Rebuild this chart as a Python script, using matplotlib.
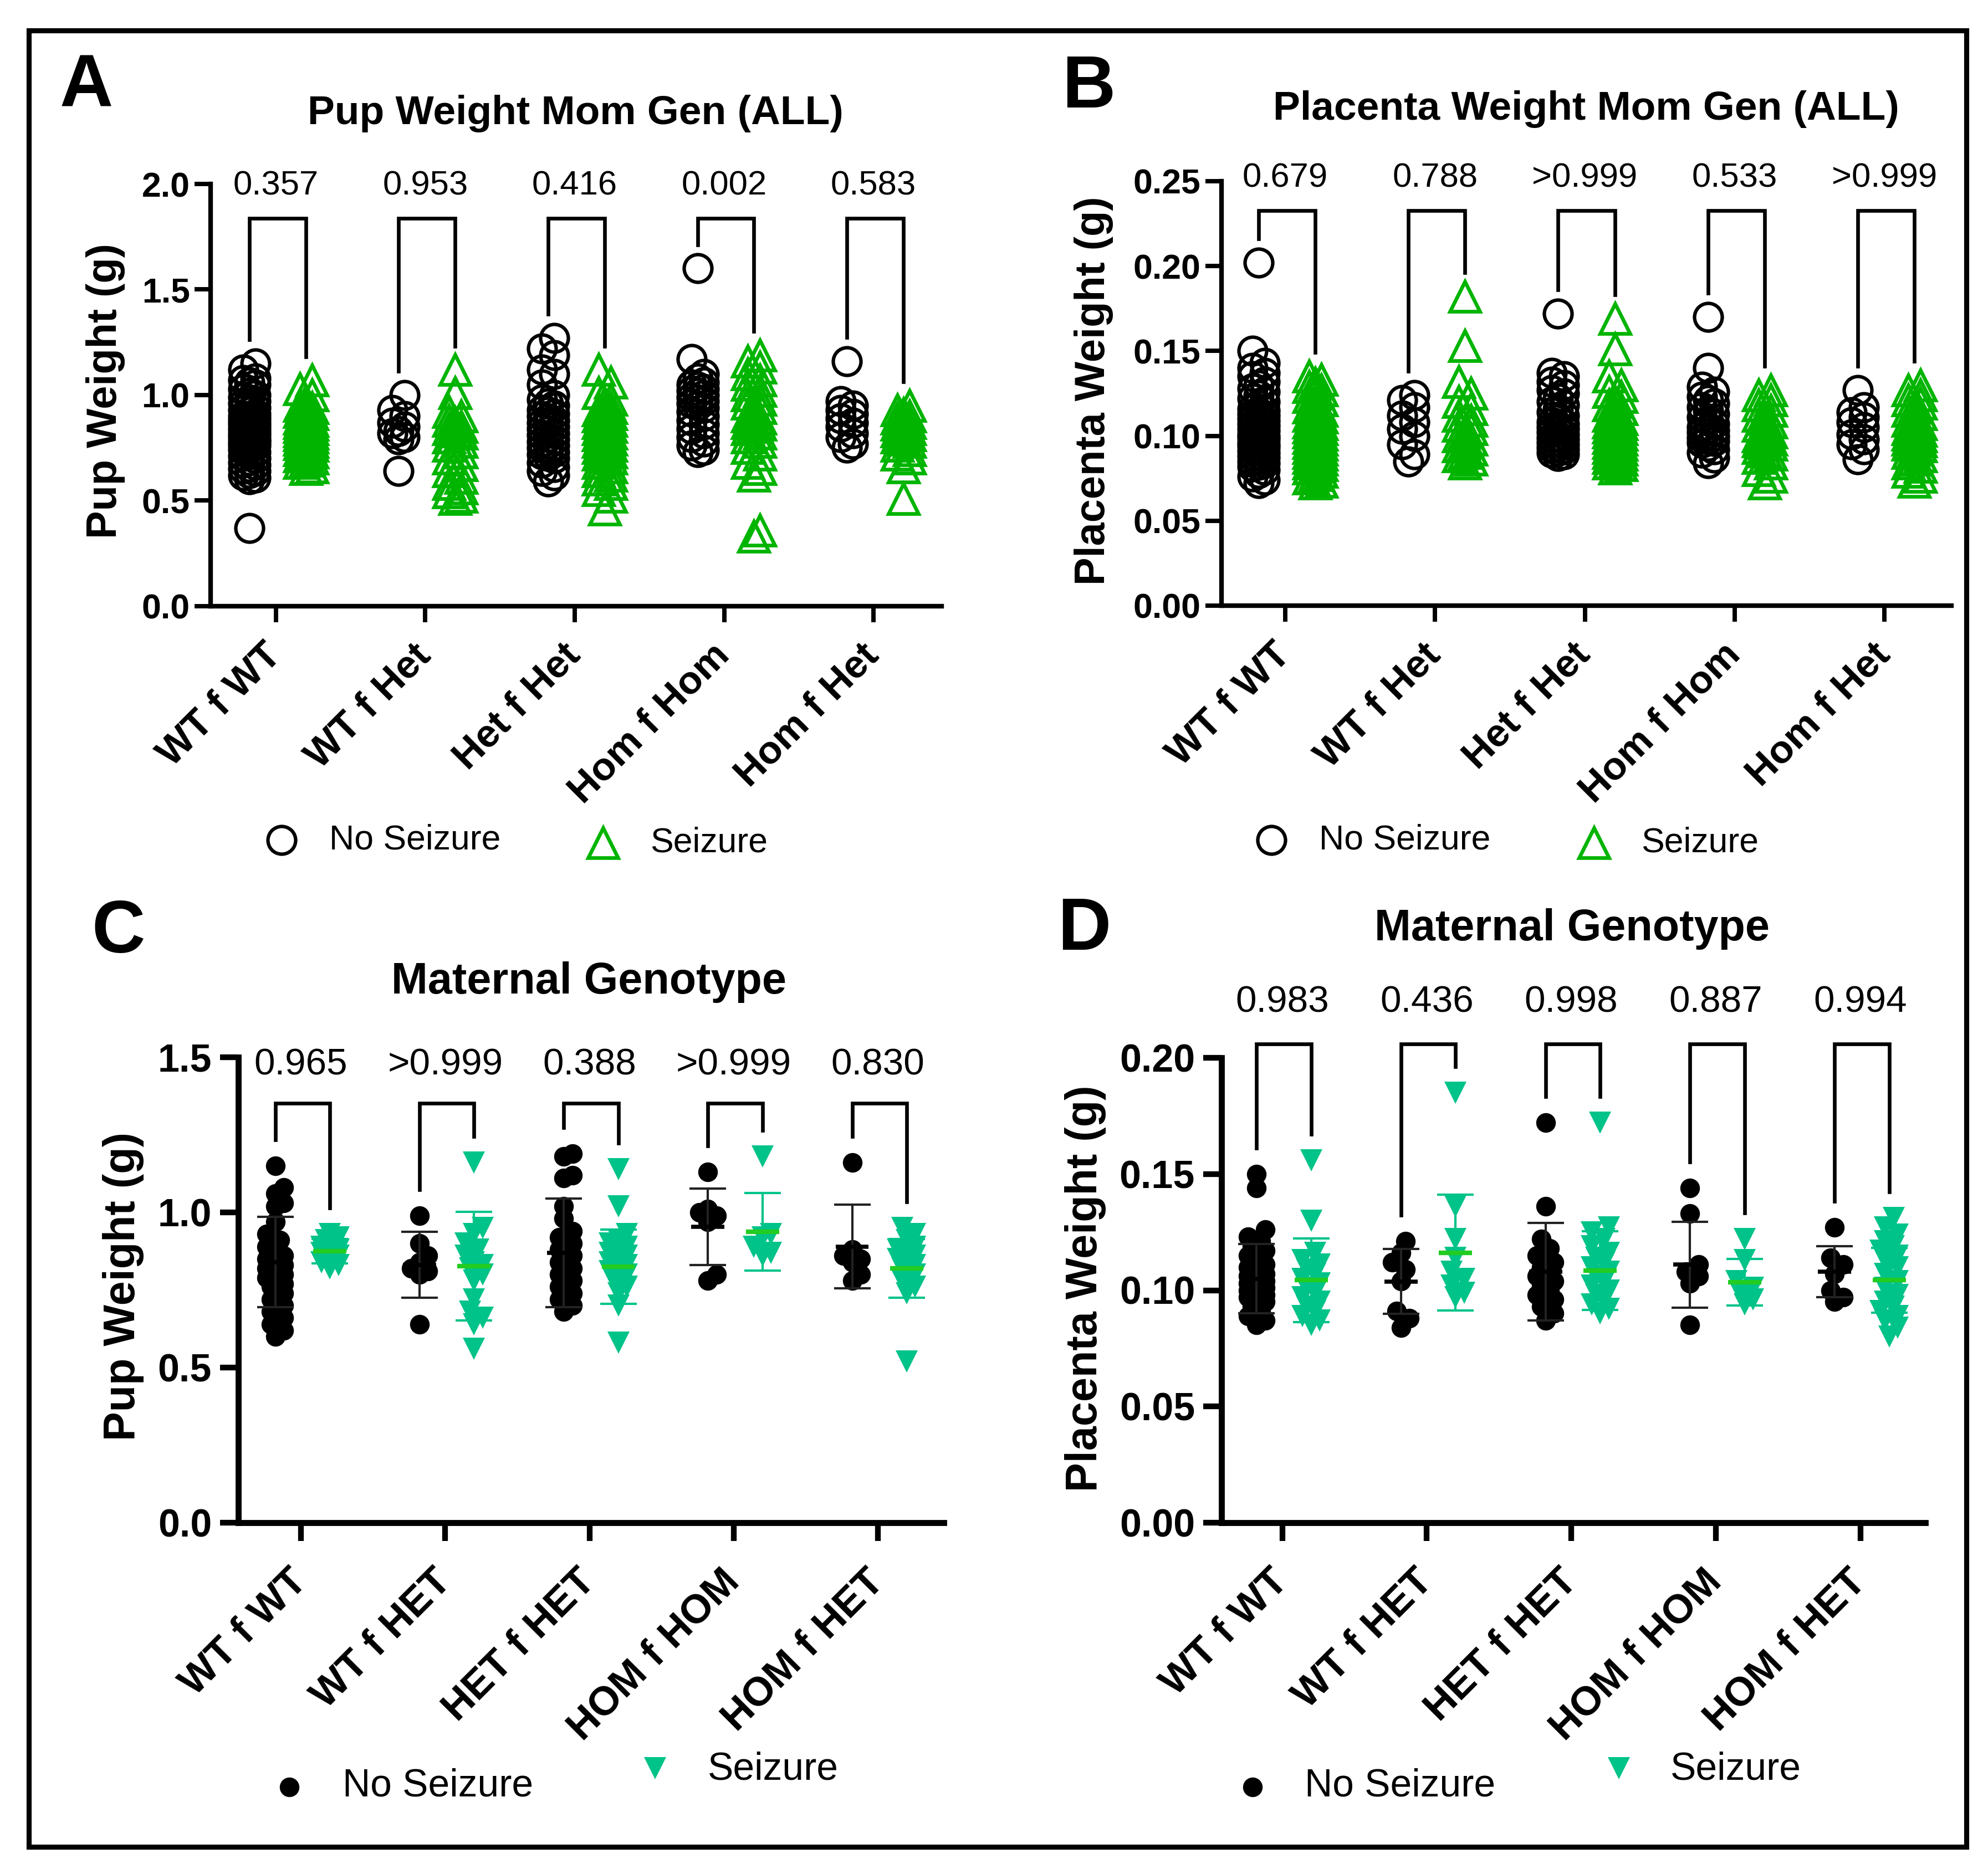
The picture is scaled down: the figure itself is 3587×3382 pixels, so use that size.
import numpy as np
import matplotlib
matplotlib.use('Agg')
import matplotlib.pyplot as plt
from matplotlib.patches import Rectangle

plt.rcParams['font.family'] = ['Liberation Sans', 'DejaVu Sans']

W, H, DPI = 3587, 3382, 300

# ---------------- data ----------------
groups_AB = ['WT f WT', 'WT f Het', 'Het f Het', 'Hom f Hom', 'Hom f Het']
groups_CD = ['WT f WT', 'WT f HET', 'HET f HET', 'HOM f HOM', 'HOM f HET']

p_A = ['0.357', '0.953', '0.416', '0.002', '0.583']
p_B = ['0.679', '0.788', '>0.999', '0.533', '>0.999']
p_C = ['0.965', '>0.999', '0.388', '>0.999', '0.830']
p_D = ['0.983', '0.436', '0.998', '0.887', '0.994']

# Panel A: pup weight (g), all pups
A_no_seizure = [
    [1.15, 1.12, 1.08, 1.07, 1.06, 1.05, 1.03, 1.01, 1.00, 0.99, 0.98, 0.97, 0.96, 0.95, 0.94,
     0.93, 0.92, 0.91, 0.90, 0.90, 0.89, 0.88, 0.88, 0.87, 0.86, 0.86, 0.85, 0.85, 0.84, 0.84,
     0.83, 0.83, 0.82, 0.82, 0.81, 0.81, 0.80, 0.80, 0.79, 0.79, 0.78, 0.78, 0.77, 0.76, 0.76,
     0.75, 0.74, 0.73, 0.72, 0.71, 0.70, 0.69, 0.68, 0.67, 0.66, 0.65, 0.64, 0.63, 0.62, 0.61,
     0.60, 0.37],
    [1.00, 0.93, 0.90, 0.87, 0.85, 0.83, 0.82, 0.80, 0.79, 0.64],
    [1.27, 1.22, 1.19, 1.12, 1.10, 1.05, 1.00, 0.98, 0.96, 0.95, 0.93, 0.92, 0.91, 0.90, 0.89,
     0.88, 0.87, 0.86, 0.85, 0.84, 0.83, 0.82, 0.81, 0.80, 0.79, 0.78, 0.77, 0.76, 0.75, 0.74,
     0.73, 0.72, 0.71, 0.70, 0.68, 0.66, 0.64, 0.62, 0.59],
    [1.60, 1.17, 1.10, 1.08, 1.06, 1.05, 1.04, 1.03, 1.02, 1.01, 1.00, 0.99, 0.98, 0.97, 0.96,
     0.95, 0.94, 0.92, 0.90, 0.88, 0.86, 0.84, 0.82, 0.80, 0.78, 0.76, 0.74, 0.73],
    [1.16, 0.97, 0.95, 0.93, 0.91, 0.89, 0.87, 0.85, 0.82, 0.80, 0.77, 0.75],
]
A_seizure = [
    [1.07, 1.03, 1.00, 0.97, 0.95, 0.94, 0.93, 0.92, 0.91, 0.90, 0.89, 0.88, 0.88, 0.87, 0.86,
     0.86, 0.85, 0.85, 0.84, 0.84, 0.83, 0.83, 0.82, 0.82, 0.81, 0.81, 0.80, 0.80, 0.79, 0.79,
     0.78, 0.78, 0.77, 0.76, 0.75, 0.74, 0.73, 0.72, 0.71, 0.70, 0.69, 0.68, 0.66, 0.65],
    [1.12, 1.01, 0.92, 0.90, 0.88, 0.87, 0.85, 0.84, 0.83, 0.82, 0.80, 0.78, 0.76, 0.73, 0.70,
     0.67, 0.64, 0.61, 0.58, 0.56, 0.54, 0.52, 0.51],
    [1.12, 1.06, 1.01, 0.98, 0.96, 0.94, 0.93, 0.92, 0.91, 0.90, 0.89, 0.88, 0.87, 0.86, 0.85,
     0.84, 0.83, 0.82, 0.81, 0.80, 0.79, 0.78, 0.77, 0.76, 0.75, 0.74, 0.73, 0.72, 0.71, 0.70,
     0.68, 0.66, 0.64, 0.62, 0.60, 0.58, 0.55, 0.52, 0.46],
    [1.19, 1.16, 1.13, 1.10, 1.07, 1.05, 1.02, 1.00, 0.98, 0.96, 0.94, 0.92, 0.90, 0.89, 0.88,
     0.87, 0.86, 0.85, 0.84, 0.82, 0.80, 0.78, 0.75, 0.72, 0.68, 0.65, 0.62, 0.36, 0.33],
    [0.95, 0.93, 0.91, 0.90, 0.89, 0.88, 0.87, 0.86, 0.85, 0.84, 0.83, 0.82, 0.81, 0.80, 0.79,
     0.78, 0.76, 0.74, 0.72, 0.70, 0.66, 0.51],
]

# Panel B: placenta weight (g), all pups
B_no_seizure = [
    [0.202, 0.150, 0.143, 0.140, 0.137, 0.135, 0.132, 0.130, 0.128, 0.126, 0.124, 0.122, 0.120,
     0.118, 0.116, 0.115, 0.114, 0.113, 0.112, 0.111, 0.110, 0.109, 0.108, 0.107, 0.106, 0.105,
     0.104, 0.103, 0.102, 0.101, 0.100, 0.100, 0.099, 0.098, 0.097, 0.096, 0.095, 0.095, 0.094,
     0.093, 0.092, 0.091, 0.090, 0.089, 0.088, 0.087, 0.086, 0.085, 0.084, 0.083, 0.082, 0.080,
     0.078, 0.076, 0.074, 0.072],
    [0.124, 0.121, 0.117, 0.112, 0.108, 0.104, 0.100, 0.095, 0.089, 0.085],
    [0.172, 0.137, 0.135, 0.132, 0.130, 0.127, 0.125, 0.122, 0.120, 0.118, 0.116, 0.114, 0.112,
     0.110, 0.108, 0.107, 0.106, 0.105, 0.104, 0.103, 0.102, 0.101, 0.100, 0.099, 0.098, 0.097,
     0.096, 0.095, 0.094, 0.093, 0.092, 0.091, 0.090, 0.089, 0.088],
    [0.170, 0.140, 0.129, 0.126, 0.123, 0.121, 0.119, 0.117, 0.115, 0.113, 0.111, 0.109, 0.107,
     0.105, 0.104, 0.103, 0.102, 0.101, 0.100, 0.099, 0.098, 0.097, 0.096, 0.094, 0.092, 0.090,
     0.087, 0.084],
    [0.127, 0.117, 0.114, 0.111, 0.108, 0.105, 0.101, 0.098, 0.095, 0.092, 0.086],
]
B_seizure = [
    [0.135, 0.133, 0.131, 0.129, 0.127, 0.125, 0.123, 0.121, 0.119, 0.117, 0.115, 0.113, 0.112,
     0.111, 0.110, 0.108, 0.107, 0.106, 0.105, 0.104, 0.103, 0.102, 0.101, 0.100, 0.099, 0.098,
     0.097, 0.096, 0.095, 0.094, 0.093, 0.092, 0.091, 0.090, 0.089, 0.088, 0.087, 0.086, 0.085,
     0.084, 0.083, 0.082, 0.081, 0.079, 0.077, 0.075, 0.073, 0.072],
    [0.182, 0.153, 0.132, 0.125, 0.120, 0.116, 0.112, 0.109, 0.106, 0.104, 0.102, 0.100, 0.098,
     0.096, 0.094, 0.092, 0.090, 0.088, 0.086, 0.084],
    [0.169, 0.151, 0.135, 0.130, 0.126, 0.123, 0.120, 0.118, 0.116, 0.114, 0.112, 0.110, 0.109,
     0.108, 0.107, 0.106, 0.105, 0.104, 0.103, 0.102, 0.101, 0.100, 0.099, 0.098, 0.097, 0.096,
     0.095, 0.094, 0.093, 0.092, 0.091, 0.090, 0.089, 0.088, 0.087, 0.086, 0.085, 0.084, 0.083,
     0.081],
    [0.127, 0.124, 0.121, 0.118, 0.115, 0.112, 0.110, 0.108, 0.106, 0.104, 0.102, 0.100, 0.099,
     0.098, 0.097, 0.096, 0.095, 0.093, 0.091, 0.089, 0.087, 0.084, 0.080, 0.076, 0.072],
    [0.130, 0.127, 0.124, 0.121, 0.119, 0.117, 0.115, 0.113, 0.111, 0.109, 0.107, 0.105, 0.104,
     0.103, 0.102, 0.101, 0.100, 0.099, 0.098, 0.097, 0.096, 0.095, 0.094, 0.092, 0.090, 0.088,
     0.086, 0.084, 0.082, 0.079, 0.076, 0.073],
]

# Panel C: pup weight (g) by maternal genotype
C_no_seizure = [
    [1.15, 1.08, 1.06, 1.03, 1.02, 0.97, 0.93, 0.91, 0.89, 0.87, 0.86, 0.85, 0.84, 0.83, 0.82,
     0.81, 0.80, 0.79, 0.78, 0.77, 0.76, 0.74, 0.72, 0.70, 0.68, 0.66, 0.64, 0.62, 0.60],
    [0.99, 0.90, 0.86, 0.84, 0.82, 0.81, 0.80, 0.64],
    [1.19, 1.18, 1.12, 1.11, 1.02, 0.98, 0.94, 0.92, 0.90, 0.88, 0.86, 0.84, 0.82, 0.80, 0.78,
     0.76, 0.74, 0.72, 0.70, 0.68],
    [1.13, 1.01, 1.00, 0.99, 0.97, 0.80, 0.78],
    [1.16, 0.88, 0.86, 0.85, 0.84, 0.80, 0.78],
]
C_seizure = [
    [0.93, 0.92, 0.91, 0.90, 0.89, 0.88, 0.88, 0.87, 0.86, 0.85, 0.84, 0.83, 0.82],
    [1.16, 0.95, 0.93, 0.90, 0.88, 0.86, 0.84, 0.83, 0.82, 0.80, 0.78, 0.72, 0.68, 0.66, 0.64,
     0.56],
    [1.14, 1.02, 0.93, 0.91, 0.90, 0.89, 0.88, 0.87, 0.86, 0.85, 0.84, 0.83, 0.82, 0.81, 0.80,
     0.78, 0.76, 0.74, 0.70, 0.58],
    [1.18, 0.93, 0.92, 0.89, 0.87, 0.86],
    [0.95, 0.93, 0.91, 0.89, 0.88, 0.87, 0.86, 0.85, 0.84, 0.83, 0.82, 0.80, 0.78, 0.76, 0.74,
     0.52],
]
C_no_mean = [0.84, 0.831, 0.87, 0.953, 0.89]
C_no_sd = [0.145, 0.106, 0.175, 0.123, 0.135]
C_sz_mean = [0.875, 0.826, 0.825, 0.937, 0.82]
C_sz_sd = [0.04, 0.175, 0.12, 0.125, 0.095]

# Panel D: placenta weight (g) by maternal genotype
D_no_seizure = [
    [0.150, 0.144, 0.126, 0.123, 0.121, 0.119, 0.117, 0.115, 0.113, 0.111, 0.110, 0.108, 0.107,
     0.106, 0.105, 0.104, 0.103, 0.102, 0.101, 0.100, 0.099, 0.098, 0.097, 0.096, 0.095, 0.093,
     0.091, 0.089, 0.087, 0.085],
    [0.121, 0.116, 0.112, 0.109, 0.104, 0.091, 0.088, 0.084],
    [0.172, 0.136, 0.122, 0.118, 0.115, 0.112, 0.110, 0.108, 0.106, 0.104, 0.102, 0.100, 0.098,
     0.096, 0.093, 0.090, 0.087],
    [0.144, 0.133, 0.111, 0.108, 0.106, 0.103, 0.085],
    [0.127, 0.114, 0.111, 0.107, 0.100, 0.097, 0.095],
]
D_seizure = [
    [0.156, 0.130, 0.116, 0.113, 0.111, 0.109, 0.107, 0.105, 0.103, 0.101, 0.099, 0.097, 0.095,
     0.093, 0.091, 0.089, 0.087, 0.085],
    [0.185, 0.136, 0.122, 0.114, 0.108, 0.105, 0.102, 0.099, 0.097],
    [0.172, 0.127, 0.125, 0.122, 0.119, 0.116, 0.114, 0.112, 0.110, 0.108, 0.106, 0.104, 0.102,
     0.100, 0.098, 0.096, 0.094, 0.092, 0.090],
    [0.122, 0.113, 0.104, 0.101, 0.099, 0.096, 0.094],
    [0.131, 0.127, 0.124, 0.121, 0.119, 0.117, 0.115, 0.113, 0.110, 0.107, 0.104, 0.101, 0.098,
     0.095, 0.093, 0.091, 0.089, 0.087, 0.084, 0.080],
]
D_no_mean = [0.105, 0.1038, 0.108, 0.111, 0.108]
D_no_sd = [0.015, 0.014, 0.021, 0.0185, 0.011]
D_sz_mean = [0.1043, 0.1162, 0.1085, 0.1035, 0.1043]
D_sz_sd = [0.018, 0.025, 0.017, 0.010, 0.014]

# ---------------- styling ----------------
GREEN_AB = '#00B400'
TEAL = '#00C389'
MEAN_GREEN = '#22CC22'
OFF_L, OFF_R = -0.178, 0.20

fig = plt.figure(figsize=(W / DPI, H / DPI), dpi=DPI)
fig.patch.set_facecolor('white')


def add_ax(l, t, r, b):
    return fig.add_axes([l / W, 1 - b / H, (r - l) / W, (b - t) / H])


def swarm(vals, ppx, ppy, diam, max_off):
    vals = np.asarray(vals, float)
    order = np.argsort(vals)
    step = diam * 0.22
    n = max(1, int(round(max_off / step)))
    cands = [0.0]
    for k in range(1, n + 1):
        cands += [k * step, -k * step]
    min_d = diam * 0.6
    placed = []
    offs = np.zeros(len(vals))
    for i in order:
        y = vals[i] * ppy
        best, bestd = 0.0, -1.0
        for c in cands:
            d = min([np.hypot(c - px, y - py) for px, py in placed], default=1e9)
            if d >= min_d:
                best = c
                break
            if d > bestd:
                bestd, best = d, c
        offs[i] = best
        placed.append((best, y))
    return offs / ppx


def panel(ax, box, no, sz, labels, pvals, ylim, yticks, yfmt, xlim, filled,
          fs, bracket_top, ptext_y, ylabel, ylab_xy, spine_w, tick_len, xpad, ypad,
          means=None):
    l, t, r, b = box
    ppx = (r - l) / (xlim[1] - xlim[0])
    ppy = (b - t) / (ylim[1] - ylim[0])
    rng = ylim[1] - ylim[0]
    if filled:
        diam, max_off = 35, 12
        kw_no = dict(marker='o', ms=8.5, mfc='k', mec='k', mew=0, ls='none')
        kw_sz = dict(marker='v', ms=9.5, mfc=TEAL, mec=TEAL, mew=0, ls='none')
    else:
        diam, max_off = 50, 10
        kw_no = dict(marker='o', ms=12, mfc='none', mec='k', mew=1.5, ls='none')
        kw_sz = dict(marker='^', ms=13, mfc='none', mec=GREEN_AB, mew=1.6, ls='none')
    for i in range(5):
        xn = i + OFF_L + swarm(no[i], ppx, ppy, diam, max_off)
        xs = i + OFF_R + swarm(sz[i], ppx, ppy, diam, max_off)
        ax.plot(xn, no[i], zorder=3, clip_on=False, **kw_no)
        ax.plot(xs, sz[i], zorder=3, clip_on=False, **kw_sz)
        gap = 0.056 * rng
        yl = max(no[i]) + gap
        yr = max(sz[i]) + gap
        ax.plot([i + OFF_L, i + OFF_L, i + OFF_R, i + OFF_R], [yl, bracket_top, bracket_top, yr],
                color='k', lw=1.6, clip_on=False, solid_joinstyle='miter', zorder=5)
        ax.text(i, ptext_y, pvals[i], ha='center', va='center', fontsize=fs['p'], clip_on=False)
    if means is not None:
        nm, nsd, smn, ssd = means
        for i in range(5):
            ax.errorbar(i + OFF_L, nm[i], yerr=nsd[i], fmt='none', ecolor='#222222',
                        elinewidth=1.0, capsize=8, capthick=1.0, zorder=4)
            ax.hlines(nm[i], i + OFF_L - 0.115, i + OFF_L + 0.115, color='k', lw=1.8, zorder=4)
            ax.errorbar(i + OFF_R, smn[i], yerr=ssd[i], fmt='none', ecolor=TEAL,
                        elinewidth=1.0, capsize=8, capthick=1.0, zorder=4)
            ax.hlines(smn[i], i + OFF_R - 0.115, i + OFF_R + 0.115, color=MEAN_GREEN, lw=2.0,
                      zorder=4)
    ax.set_xlim(*xlim)
    ax.set_ylim(*ylim)
    ax.set_yticks(yticks)
    ax.set_yticklabels([yfmt.format(v) for v in yticks], fontsize=fs['ytick'], fontweight='bold')
    ax.set_xticks(range(5))
    ax.set_xticklabels(labels, rotation=45, ha='right', va='center', rotation_mode='anchor',
                       fontsize=fs['xtick'], fontweight='bold')
    for s in ['top', 'right']:
        ax.spines[s].set_visible(False)
    for s in ['left', 'bottom']:
        ax.spines[s].set_linewidth(spine_w)
    ax.tick_params(axis='both', direction='out', length=tick_len, width=spine_w * 0.95)
    ax.tick_params(axis='x', pad=xpad)
    ax.tick_params(axis='y', pad=ypad)
    ax.set_ylabel(ylabel, fontsize=fs['ylabel'], fontweight='bold', ha='center', va='center')
    ax.yaxis.set_label_coords(*ylab_xy)
    ax.patch.set_alpha(0)


fs_AB = dict(p=14.8, ytick=15, xtick=17, ylabel=18.2)
fs_CD = dict(p=16.2, ytick=16.8, xtick=17.5, ylabel=19)

boxA = (380, 332, 1699, 1094)
boxB = (2204, 327, 3521, 1093)
boxC = (430, 1908, 1703, 2748)
boxD = (2204, 1909, 3474, 2748)

axA = add_ax(*boxA)
panel(axA, boxA, A_no_seizure, A_seizure, groups_AB, p_A, (0, 2.0), [0.0, 0.5, 1.0, 1.5, 2.0],
      '{:.1f}', (-0.437, 4.456), False, fs_AB, 1.836, 1.99, 'Pup Weight (g)',
      (-0.144, 0.51), 2.0, 7, 12, 2)

axB = add_ax(*boxB)
panel(axB, boxB, B_no_seizure, B_seizure, groups_AB, p_B, (0, 0.25),
      [0.0, 0.05, 0.10, 0.15, 0.20, 0.25], '{:.2f}', (-0.425, 4.447), False, fs_AB, 0.2327,
      0.2516, 'Placenta Weight (g)', (-0.175, 0.506), 2.0, 7, 12, 2)

axC = add_ax(*boxC)
panel(axC, boxC, C_no_seizure, C_seizure, groups_CD, p_C, (0, 1.5), [0.0, 0.5, 1.0, 1.5],
      '{:.1f}', (-0.435, 4.458), True, fs_CD, 1.352, 1.475, 'Pup Weight (g)',
      (-0.163, 0.508), 2.6, 8, 15, 3.5,
      means=(C_no_mean, C_no_sd, C_sz_mean, C_sz_sd))

axD = add_ax(*boxD)
panel(axD, boxD, D_no_seizure, D_seizure, groups_CD, p_D, (0, 0.20),
      [0.0, 0.05, 0.10, 0.15, 0.20], '{:.2f}', (-0.42, 4.45), True, fs_CD, 0.206, 0.2236,
      'Placenta Weight (g)', (-0.193, 0.504), 2.6, 8, 15, 3.5,
      means=(D_no_mean, D_no_sd, D_sz_mean, D_sz_sd))

# ---------------- overlay: border, letters, titles, legends ----------------
ov = fig.add_axes([0, 0, 1, 1], zorder=10)
ov.set_xlim(0, W)
ov.set_ylim(H, 0)
ov.axis('off')
ov.patch.set_alpha(0)
ov.add_patch(Rectangle((52, 55), 3548 - 52, 3333 - 55, fill=False, lw=2.2, ec='k'))

for letter, (x, y) in zip('ABCD', [(156, 158), (1964, 160), (214, 1685), (1956, 1680)]):
    ov.text(x, y, letter, fontsize=32, fontweight='bold', ha='center', va='center')

ov.text(1038, 205, 'Pup Weight Mom Gen (ALL)', fontsize=17.6, fontweight='bold',
        ha='center', va='center')
ov.text(2862, 197, 'Placenta Weight Mom Gen (ALL)', fontsize=17.6, fontweight='bold',
        ha='center', va='center')
ov.text(1062, 1773, 'Maternal Genotype', fontsize=19, fontweight='bold', ha='center', va='center')
ov.text(2837, 1677, 'Maternal Genotype', fontsize=19, fontweight='bold', ha='center', va='center')

# legends (open markers for A/B, filled for C/D)
for cx, tx, gx, gtx in [(508, 594, 1088, 1173), (2294, 2380, 2876, 2961)]:
    ov.plot([cx], [1516], marker='o', ms=12, mfc='none', mec='k', mew=1.5)
    ov.text(tx, 1516, 'No Seizure', fontsize=15, ha='left', va='center')
    ov.plot([gx], [1521], marker='^', ms=13, mfc='none', mec=GREEN_AB, mew=1.6)
    ov.text(gtx, 1521, 'Seizure', fontsize=15, ha='left', va='center')
for cx, tx, gx, gtx in [(522, 618, 1182, 1277), (2260, 2354, 2921, 3014)]:
    ov.plot([cx], [3225], marker='o', ms=8.5, mfc='k', mec='k', mew=0)
    ov.text(tx, 3223, 'No Seizure', fontsize=16.7, ha='left', va='center')
    ov.plot([gx], [3191], marker='v', ms=9.5, mfc=TEAL, mec=TEAL, mew=0)
    ov.text(gtx, 3194, 'Seizure', fontsize=16.7, ha='left', va='center')

fig.savefig('out.png', dpi=DPI, facecolor='white')
